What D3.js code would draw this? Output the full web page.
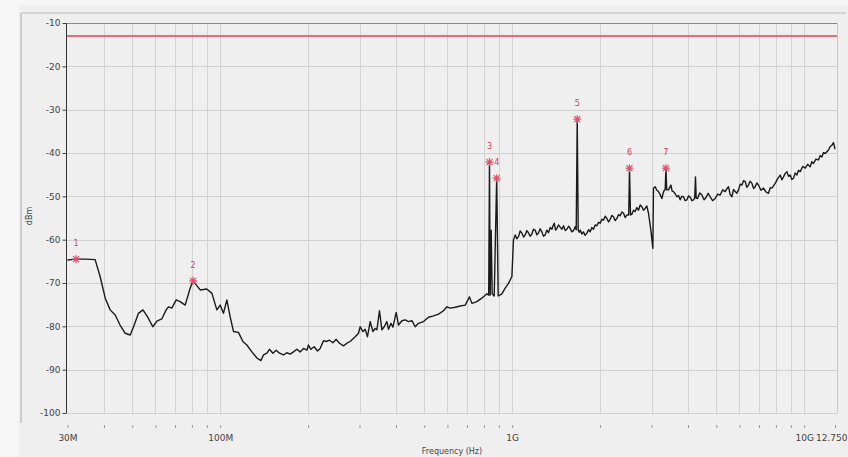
<!DOCTYPE html>
<html><head><meta charset="utf-8">
<script src="https://cdn.jsdelivr.net/npm/d3@7"></script>
<style>
html,body{margin:0;padding:0;background:#f6f6f6;}
svg{display:block;}
text{font-family:"DejaVu Sans",sans-serif;}
</style></head>
<body>
<svg id="chart" width="848" height="457"></svg>
<script>
// ---------------- data ----------------
const yTickValues = [-10,-20,-30,-40,-50,-60,-70,-80,-90,-100];
const xTickValuesMHz = [30, 100, 1000, 10000, 12750];
const xTickLabels = ["30M", "100M", "1G", "10G", "12.750"];
const limitLevel = -13;
const markerIds = ["1","2","3","4","5","6","7"];
const markerMHz = [32.1, 80.8, 836.1, 885.0, 1670, 2522, 3361];
const markerDbm = [-64.5, -69.5, -42.1, -45.8, -32.2, -43.5, -43.5];
const traceMHz = [
30.0,32.1,34.5,37.3,38.8,40.4,42.0,43.7,45.4,47.3,49.2,50.5,52.5,54.4,56.4,58.8,60.7,63.1,65.3,66.5,68.3,70.7,72.9,75.9,78.9,80.8,
85.4,90.0,93.7,97.4,100,102.6,105.4,108.2,111.1,115.5,119.6,123.4,128.4,133.6,137.9,140.7,144.5,147.5,151.5,155.5,159.7,164.8,169.2,
173.6,178.2,183.1,187.9,192.9,198.2,200.6,204.4,209.8,215.4,220.0,225.9,230.7,236.8,243.2,249.6,256.2,264.4,271.6,278.7,290.0,297.6,
301.6,308.1,313.7,319.5,326.4,333.4,339.5,344.1,351.2,357.9,364.5,372.3,377.1,384.3,390.4,400.7,408.0,419.1,430.2,441.5,453.5,465.4,
477.7,497.0,516.9,537.7,559.3,581.8,597.6,613.4,638.0,663.6,690.3,714.2,727.8,757.0,787.4,819.2,830.8,836.1,840.7,847.4,854.0,867.8,
885.0,895.6,921.9,946.2,971.2,997.7,1010,1024,
1037,1051,1065,1080,1094,1108,1122,1137,1152,1168,1183,1199,1215,1231,1247,1264,1280,1297,1314,1331,1350,1368,1380,1393,1408,1423,
1441,1460,1480,1499,1519,1539,1560,1580,1600,1622,1644,1657,1670,1683,1696,1710,1732,1754,1778,1803,1826,1850,1874,1898,1924,1950,
1976,2002,2028,2055,2082,2110,2138,2166,2194,2223,2253,2284,2314,2344,2375,2406,2438,2471,2506,2522,2542,2570,2604,2638,2672,2707,
2744,2781,2817,2854,2890,2930,2985,3032,3047,3088,3128,3170,3212,3256,3290,3324,3342,3361,3382,3430,3496,3530,3568,3615,3664,3712,
3761,3810,3860,3912,3966,4020,4071,4125,4178,4217,4244,4267,4311,4390,4464,4540,4617,4690,4765,4860,4956,5055,5156,5260,5364,5430,
5506,5580,5655,5730,5804,5880,5957,6037,6118,6200,6280,6362,6446,6530,6621,6710,6795,6885,6974,7110,7255,7400,7546,7650,7751,7850,
7955,8115,8276,8385,8494,8610,8726,8840,8955,9070,9192,9315,9441,9565,9690,9885,10079,10280,10484,10620,10761,10975,11194,11345,
11497,11650,11800,11955,12115,12280,12445,12600,12750];
const traceDbm = [
-64.7,-64.5,-64.5,-64.6,-68.5,-73.5,-76.2,-77.4,-79.7,-81.6,-82.0,-80.1,-77.0,-76.2,-77.8,-80.1,-78.8,-78.3,-76.2,-75.5,-75.8,-73.9,-74.3,-75.1,-71.2,-69.5,
-71.6,-71.4,-72.4,-76.2,-75.1,-77.0,-73.9,-77.8,-81.2,-81.4,-83.5,-84.3,-85.9,-87.3,-87.9,-86.6,-86.2,-85.3,-86.2,-85.5,-86.2,-86.6,-86.1,
-86.4,-85.9,-85.3,-85.9,-85.1,-85.5,-84.3,-85.3,-84.7,-85.7,-85.1,-83.3,-83.5,-83.2,-83.8,-83.0,-83.9,-84.5,-83.9,-83.5,-82.4,-81.6,
-80.1,-81.2,-80.7,-82.4,-78.9,-81.2,-80.5,-80.8,-76.4,-80.8,-80.1,-78.9,-80.7,-79.3,-80.2,-76.8,-79.7,-78.7,-78.5,-78.9,-78.7,-80.1,
-79.3,-78.9,-77.9,-77.6,-77.2,-76.4,-75.5,-75.8,-75.6,-75.3,-75.1,-73.2,-74.7,-74.3,-73.5,-72.5,-72.8,-42.1,-72.8,-57.8,-72.5,-73.0,
-45.8,-73.0,-72.5,-71.2,-70.1,-68.5,-60.1,-58.9,
-59.8,-59.3,-58.0,-58.5,-59.4,-58.9,-57.9,-58.4,-59.2,-58.7,-57.6,-57.8,-58.9,-58.4,-57.5,-58.2,-59.2,-58.9,-57.8,-58.4,-57.2,-57.6,-56.8,-56.2,-57.8,-57.4,
-56.6,-57.1,-57.6,-56.8,-57.9,-57.6,-56.9,-57.4,-58.2,-57.9,-57.0,-57.7,-32.2,-57.8,-58.3,-57.8,-58.7,-58.2,-59.0,-58.5,-57.7,-58.2,-57.2,-57.6,-56.6,-56.8,
-56.0,-56.2,-55.3,-55.5,-54.6,-55.1,-55.9,-55.3,-54.4,-54.7,-55.6,-55.1,-54.2,-54.5,-53.6,-53.9,-54.9,-54.3,-54.3,-43.5,-54.3,-54.1,-53.2,-53.5,-52.6,-53.2,
-52.0,-52.4,-53.2,-52.8,-52.2,-53.9,-57.8,-62.0,-48.1,-47.8,-48.6,-48.9,-49.6,-50.5,-49.2,-48.5,-48.5,-43.5,-48.5,-48.5,-47.4,-48.8,-48.9,-49.4,-50.1,-49.8,
-50.8,-50.0,-50.1,-51.0,-50.8,-49.9,-50.2,-51.0,-50.8,-50.4,-45.5,-50.4,-50.5,-49.2,-49.7,-50.8,-50.2,-49.3,-50.1,-51.0,-50.5,-49.5,-49.7,-48.5,-48.9,-48.3,
-47.8,-49.6,-50.1,-48.4,-48.9,-49.3,-48.5,-47.2,-47.4,-46.4,-46.6,-47.9,-47.4,-46.5,-47.0,-48.2,-47.8,-46.9,-47.4,-48.6,-48.1,-49.0,-49.3,-48.0,-48.1,-47.6,
-47.0,-45.9,-45.1,-46.2,-45.5,-44.7,-44.3,-45.4,-45.1,-46.1,-45.8,-44.6,-45.1,-44.0,-44.3,-43.1,-43.5,-42.6,-43.2,-42.0,-42.4,-41.4,-41.6,-40.6,
-40.9,-39.9,-40.1,-39.7,-39.3,-38.5,-38.2,-37.6,-39.1];

// ---------------- drawing ----------------
const svg = d3.select("#chart");
const W = 848, H = 457;
const plot = {left: 66, right: 837, top: 23, bottom: 413};

// panel background
svg.append("rect").attr("x", 0).attr("y", 0).attr("width", W).attr("height", H).attr("fill", "#f6f6f6");
svg.append("rect").attr("x", 19).attr("y", 5).attr("width", W - 19).attr("height", H - 5).attr("fill", "#efefef");
svg.append("line").attr("x1", 21).attr("x2", 21).attr("y1", 13).attr("y2", 423).attr("stroke", "#aaa").attr("stroke-width", 1);
svg.append("line").attr("x1", 21).attr("x2", 846).attr("y1", 13).attr("y2", 13).attr("stroke", "#bbb").attr("stroke-width", 1);

const x = d3.scaleLog().domain([30, 12750]).range([67.5, 835]);
const y = d3.scaleLinear().domain([-100, -10]).range([plot.bottom, plot.top]);

// grid
const gridTicks = x.ticks().filter(v => v > 30 && v < 12750);
const minorTicks = gridTicks.filter(v => xTickValuesMHz.indexOf(v) < 0);
svg.append("g").selectAll("line").data(gridTicks).join("line")
  .attr("x1", d => Math.round(x(d)) + 0.5).attr("x2", d => Math.round(x(d)) + 0.5)
  .attr("y1", plot.top).attr("y2", plot.bottom)
  .attr("stroke", "#d4d4d4").attr("stroke-width", 1);
svg.append("g").selectAll("line").data(yTickValues.slice(1)).join("line")
  .attr("x1", plot.left).attr("x2", plot.right)
  .attr("y1", d => Math.round(y(d)) + 0.5).attr("y2", d => Math.round(y(d)) + 0.5)
  .attr("stroke", "#d0d0d0").attr("stroke-width", 1);

// plot border top / right
svg.append("line").attr("x1", plot.left).attr("x2", plot.right).attr("y1", plot.top + 0.5).attr("y2", plot.top + 0.5).attr("stroke", "#888");
svg.append("line").attr("x1", plot.right + 0.5).attr("x2", plot.right + 0.5).attr("y1", plot.top).attr("y2", plot.bottom).attr("stroke", "#c8c8c8");

// y axis
const yAxis = d3.axisLeft(y).tickValues(yTickValues).tickFormat(d => d).tickSize(4).tickPadding(2);
const gy = svg.append("g").attr("transform", `translate(${plot.left + 0.5},0)`).call(yAxis);
gy.select(".domain").attr("stroke", "#333").attr("d", `M-0,${plot.top}V${plot.bottom}`);
gy.selectAll(".tick line").attr("stroke", "#444");
gy.selectAll("text").attr("font-size", 9).attr("fill", "#444").attr("font-family", "DejaVu Sans");

// x axis (labels + small ticks below plot)
const xAxis = d3.axisBottom(x).tickValues(minorTicks.concat(xTickValuesMHz)).tickSize(3).tickPadding(7)
  .tickFormat(d => { const i = xTickValuesMHz.indexOf(d); return i >= 0 ? xTickLabels[i] : ""; });
const gx = svg.append("g").attr("transform", `translate(0,${plot.bottom + 12})`).call(xAxis);
gx.select(".domain").remove();
gx.selectAll(".tick line").attr("stroke", "#999");
gx.selectAll("text").attr("font-size", 9).attr("fill", "#444").attr("font-family", "DejaVu Sans");
gx.selectAll(".tick").filter(d => d === 12750).select("text")
  .attr("text-anchor", "end").attr("x", W - 1 - x(12750));

// axis titles
svg.append("text").attr("x", 452).attr("y", 454).attr("text-anchor", "middle")
  .attr("font-size", 8).attr("fill", "#444").text("Frequency (Hz)");
svg.append("text").attr("transform", "translate(32,216) rotate(-90)").attr("text-anchor", "middle")
  .attr("font-size", 8).attr("fill", "#444").text("dBm");

// limit line
svg.append("line").attr("x1", plot.left + 1).attr("x2", plot.right)
  .attr("y1", y(limitLevel)).attr("y2", y(limitLevel))
  .attr("stroke", "#e8404c").attr("stroke-width", 1.5);

// trace
const trace = traceMHz.map((f, i) => [f, traceDbm[i]]);
svg.append("path").datum(trace)
  .attr("fill", "none").attr("stroke", "#1a1a1a").attr("stroke-width", 1.4).attr("stroke-linejoin", "round")
  .attr("d", d3.line().x(d => x(d[0])).y(d => y(d[1])));

// markers
const markers = markerIds.map((id, i) => ({id, f: markerMHz[i], v: markerDbm[i]}));
const mg = svg.append("g").selectAll("g").data(markers).join("g")
  .attr("transform", d => `translate(${x(d.f)},${y(d.v)})`);
mg.append("path").attr("d", "M-4,0H4M0,-4V4M-3,-3L3,3M-3,3L3,-3")
  .attr("stroke", "#e0506a").attr("stroke-width", 1.2).attr("fill", "none");
mg.append("text").attr("y", -13).attr("text-anchor", "middle")
  .attr("font-size", 8).attr("fill", "#d8405c").text(d => d.id);
</script>
</body></html>
